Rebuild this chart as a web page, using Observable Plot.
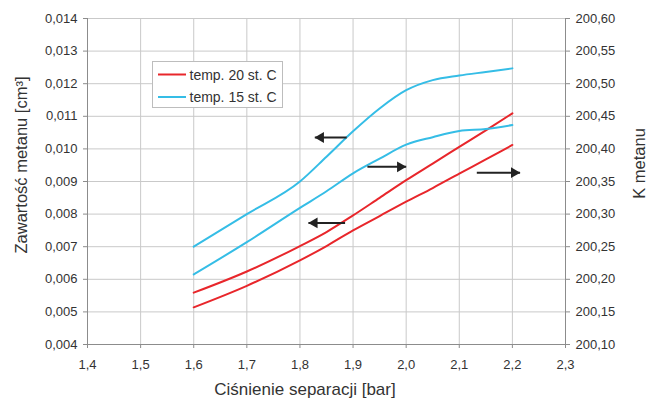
<!DOCTYPE html>
<html><head><meta charset="utf-8">
<script src="https://cdn.jsdelivr.net/npm/d3@7"></script>
<script src="https://cdn.jsdelivr.net/npm/@observablehq/plot@0.6"></script>
<style>
html,body{margin:0;padding:0;background:#fff;}
#chart{width:649px;height:398px;}
</style></head><body><div id="chart"></div>
<script>
// Ciśnienie separacji [bar]
const pressure = [1.6, 1.7, 1.8, 1.85, 1.9, 1.95, 2.0, 2.05, 2.1, 2.15, 2.2];
// temp. 15 st. C — Zawartość metanu (left axis)
const zaw15 = [0.0070, 0.0080, 0.0090, 0.00976, 0.01054, 0.01124, 0.01180, 0.01211, 0.01225, 0.01236, 0.01247];
// temp. 15 st. C — K metanu (right axis)
const k15 = [200.2075, 200.257, 200.3095, 200.335, 200.3625, 200.385, 200.4065, 200.418, 200.4275, 200.4305, 200.4365];
// temp. 20 st. C — Zawartość metanu (left axis)
const zaw20 = [0.00559, 0.00624, 0.00702, 0.00745, 0.00796, 0.0085, 0.00904, 0.00955, 0.01006, 0.01057, 0.01109];
// temp. 20 st. C — K metanu (right axis)
const k20 = [200.157, 200.19, 200.229, 200.251, 200.275, 200.297, 200.319, 200.340, 200.362, 200.384, 200.406];

const seriesNames = ["temp. 20 st. C", "temp. 15 st. C"];
const seriesColors = ["#e8262b", "#35bde6"];

const xTicks = [1.4, 1.5, 1.6, 1.7, 1.8, 1.9, 2.0, 2.1, 2.2, 2.3];
const leftTicks = [0.004, 0.005, 0.006, 0.007, 0.008, 0.009, 0.010, 0.011, 0.012, 0.013, 0.014];
const rightTicks = [200.10, 200.15, 200.20, 200.25, 200.30, 200.35, 200.40, 200.45, 200.50, 200.55, 200.60];

// arrows (annotation): start x, end x, level (left-axis units)
const arrowFrom = [1.888, 1.885, 1.927, 2.133];
const arrowTo   = [1.828, 1.816, 2.0, 2.2145];
const arrowY    = [0.01035, 0.00773, 0.00945, 0.00927];

const xTitle = "Ciśnienie separacji [bar]";
const yLeftTitle = "Zawartość metanu [cm³]";
const yRightTitle = "K metanu";

// right axis shares the gridlines with the left axis
const rightToLeft = d3.scaleLinear()
  .domain([rightTicks[0], rightTicks[rightTicks.length - 1]])
  .range([leftTicks[0], leftTicks[leftTicks.length - 1]]);

const comma = (fmt) => (d) => d3.format(fmt)(d).replace(".", ",");

const rows = [];
pressure.forEach((p, i) => {
  rows.push({p, v: zaw20[i], id: "z20", temp: seriesNames[0]});
  rows.push({p, v: rightToLeft(k20[i]), id: "k20", temp: seriesNames[0]});
  rows.push({p, v: zaw15[i], id: "z15", temp: seriesNames[1]});
  rows.push({p, v: rightToLeft(k15[i]), id: "k15", temp: seriesNames[1]});
});

const arrows = arrowFrom.map((x1, i) => ({x1, x2: arrowTo[i], y: arrowY[i], dir: arrowTo[i] > x1 ? 1 : -1}));

const font = "'Liberation Sans', Arial, Helvetica, sans-serif";
const W = 649, H = 398;

const svg = Plot.plot({
  width: W, height: H,
  marginLeft: 87, marginRight: 84, marginTop: 18, marginBottom: 54,
  style: {fontFamily: font, fontSize: "13px", background: "#fff", color: "#333"},
  x: {domain: [1.4, 2.3]},
  y: {domain: [0.004, 0.014]},
  color: {domain: seriesNames, range: seriesColors},
  marks: [
    Plot.gridX(xTicks, {stroke: "#c9c9c9", strokeOpacity: 1}),
    Plot.gridY(leftTicks, {stroke: "#c9c9c9", strokeOpacity: 1}),
    Plot.ruleX([1.4, 2.3], {stroke: "#8c8c8c"}),
    Plot.ruleY([0.004], {stroke: "#8c8c8c"}),
    Plot.axisX(xTicks, {tickFormat: comma(".1f"), tickSize: 4, tickPadding: 11, stroke: "#8c8c8c", fill: "#333", label: null}),
    Plot.axisY(leftTicks, {anchor: "left", tickFormat: comma(".3f"), tickSize: 4, tickPadding: 6, stroke: "#8c8c8c", fill: "#333", label: null}),
    Plot.axisY(leftTicks, {anchor: "right", tickFormat: (d) => comma(".2f")(rightToLeft.invert(d)), tickSize: 4, tickPadding: 6, stroke: "#8c8c8c", fill: "#333", label: null}),
    Plot.line(rows, {x: "p", y: "v", z: "id", stroke: "temp", strokeWidth: 2, curve: "monotone-x"}),
    Plot.link(arrows, {x1: "x1", x2: "x2", y1: "y", y2: "y", stroke: "#222", strokeWidth: 2}),
    Plot.dot(arrows.filter(a => a.dir > 0), {x: "x2", y: "y", symbol: "triangle", r: 4, rotate: 90, fill: "#222", stroke: null, dx: -6}),
    Plot.dot(arrows.filter(a => a.dir < 0), {x: "x2", y: "y", symbol: "triangle", r: 4, rotate: -90, fill: "#222", stroke: null, dx: 6})
  ]
});

const s = d3.select(svg);
// axis titles
s.append("text").attr("x", 305).attr("y", 395).attr("text-anchor", "middle")
  .style("font-size", "17px").style("font-family", font).attr("fill", "#333").text(xTitle);
s.append("text").attr("transform", "translate(26.5,165) rotate(-90)").attr("text-anchor", "middle")
  .style("font-size", "16.5px").style("font-family", font).attr("fill", "#333").text(yLeftTitle);
s.append("text").attr("transform", "translate(644.5,163.5) rotate(-90)").attr("text-anchor", "middle")
  .style("font-size", "16.5px").style("font-family", font).attr("fill", "#333").text(yRightTitle);

// legend
const lg = s.append("g");
lg.append("rect").attr("x", 152.5).attr("y", 61.5).attr("width", 130).attr("height", 46)
  .attr("fill", "#fff").attr("stroke", "#bdbdbd");
seriesNames.forEach((name, i) => {
  const y = 74.5 + i * 22.5;
  lg.append("line").attr("x1", 158).attr("x2", 186).attr("y1", y).attr("y2", y)
    .attr("stroke", seriesColors[i]).attr("stroke-width", 2);
  lg.append("text").attr("x", 189.5).attr("y", y + 5).attr("text-anchor", "start")
    .style("font-size", "14px").style("font-family", font).attr("fill", "#333").text(name);
});

document.getElementById("chart").appendChild(svg);
</script>
</body></html>
